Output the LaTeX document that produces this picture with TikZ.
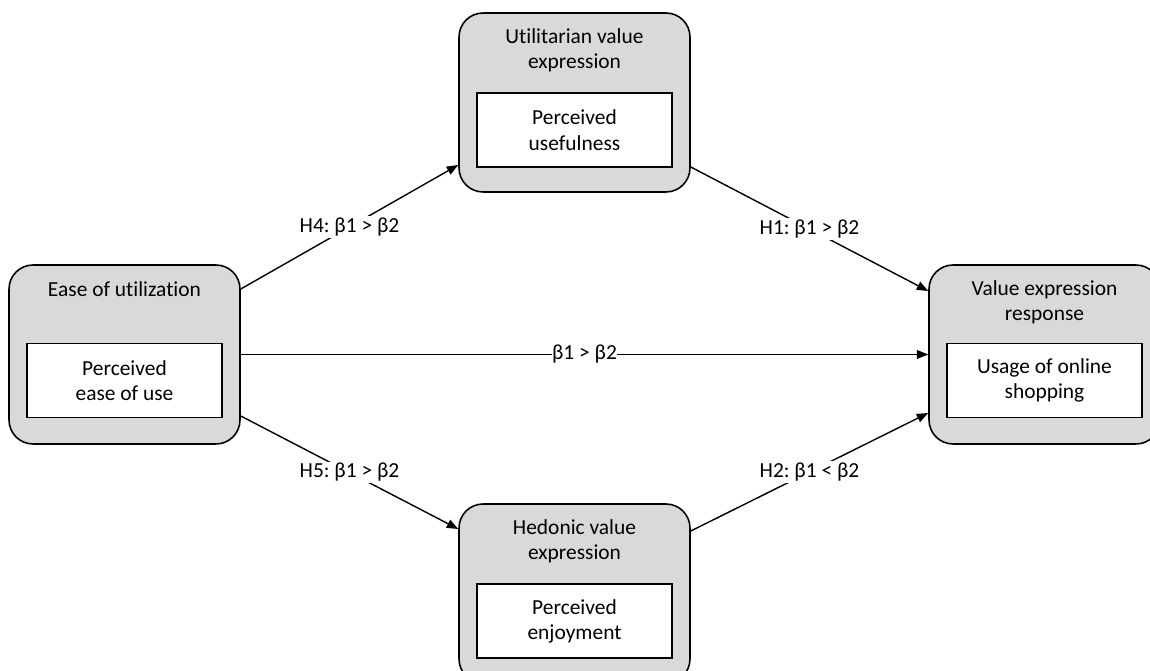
\documentclass[tikz,border=0pt]{standalone}
\usepackage{fontspec}
\setmainfont{Carlito}[Ligatures=NoCommon]
\usetikzlibrary{arrows.meta,positioning}
\frenchspacing

\begin{document}
\begin{tikzpicture}[x=0.02cm,y=-0.02cm,>={Triangle[length=6.5pt,width=5pt]},
font=\fontsize{12.2}{14.4}\selectfont,
outer/.style={draw,line width=.9pt,fill=black!15,rounded corners=0.48cm,minimum width=4.62cm,minimum height=3.58cm},
head/.style={align=center,inner sep=0pt},
inbox/.style={draw,line width=.8pt,fill=white,align=center,minimum width=3.9cm,minimum height=1.48cm,inner sep=0pt},
arr/.style={->,line width=.8pt},
lbl/.style={fill=white,inner sep=1pt}]
\useasboundingbox (0,0) rectangle (1150,671);
\node[outer] (eou) at (124.5,354.5) {};
\node[head,below=0.34cm of eou.north] {Ease of utilization};
\node[inbox,above=0.53cm of eou.south] (peou) {Perceived\\ease of use};
\node[outer] (util) at (574.5,102.5) {};
\node[head,below=0.32cm of util.north] {Utilitarian value\\expression};
\node[inbox,above=0.5cm of util.south] (pu) {Perceived\\usefulness};
\node[outer] (hed) at (574.5,593.5) {};
\node[head,below=0.32cm of hed.north] {Hedonic value\\expression};
\node[inbox,above=0.5cm of hed.south] (pe) {Perceived\\enjoyment};
\node[outer] (resp) at (1044.5,354.5) {};
\node[head,below=0.32cm of resp.north] {Value expression\\response};
\node[inbox,above=0.53cm of resp.south] (uos) {Usage of online\\shopping};
\draw[arr] ([yshift=1.31cm]eou.east)--node[lbl]{H4: β1 > β2}([yshift=-1.25cm]util.west);
\draw[arr] ([yshift=-1.29cm]util.east)--node[lbl]{H1: β1 > β2}([yshift=1.27cm]resp.west);
\draw[arr] (eou.east)--node[lbl,inner sep=0pt]{β1 > β2}(resp.west);
\draw[arr] ([yshift=-1.23cm]eou.east)--node[lbl]{H5: β1 > β2}([yshift=1.29cm]hed.west);
\draw[arr] ([yshift=1.25cm]hed.east)--node[lbl]{H2: β1 < β2}([yshift=-1.17cm]resp.west);
\end{tikzpicture}
\end{document}
